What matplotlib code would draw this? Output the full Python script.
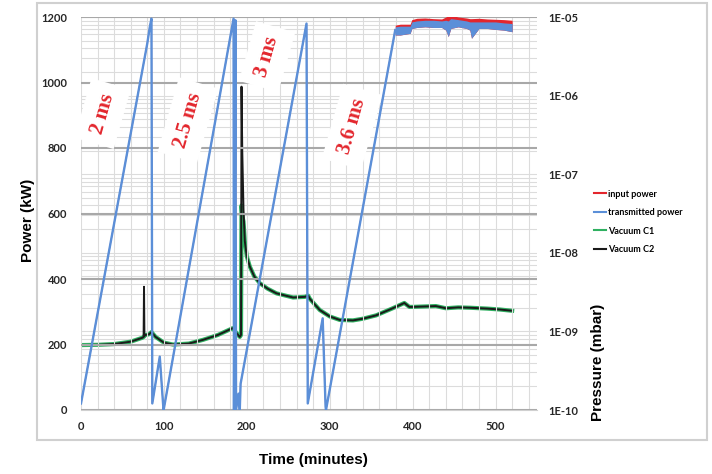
import numpy as np
import matplotlib.pyplot as plt
from matplotlib.lines import Line2D
from matplotlib.patches import Rectangle
from matplotlib.ticker import MultipleLocator, FuncFormatter, LogLocator

# power ramps (minutes, kW) - input and transmitted follow the same ramps
ramp_t = [0, 40, 80, 83, 85, 86, 95, 99.5, 100, 184, 184.5, 186.3, 187, 190, 191.5, 192.5,
          272, 273.5, 291.5, 295, 295.5, 379]
ramp_p = [20, 570, 1120, 1170, 1195, 20, 163, 0, 5, 1195, 0, 1190, 0, 50, 0, 80,
          1180, 20, 280, 10, 0, 1160]

# noisy flat top at full power
top_t = [379, 385, 392, 397, 399, 405, 415, 425, 435, 440, 443, 446, 455, 465, 469,
         471, 480, 490, 500, 510, 520]
trans_lo = [1145, 1145, 1148, 1150, 1165, 1168, 1170, 1168, 1168, 1160, 1140, 1165, 1170,
            1165, 1160, 1135, 1165, 1165, 1162, 1160, 1155]
trans_hi = [1170, 1172, 1172, 1172, 1185, 1188, 1190, 1190, 1188, 1190, 1188, 1195, 1192,
            1188, 1185, 1185, 1185, 1185, 1185, 1182, 1180]
input_hi = [1175, 1178, 1178, 1178, 1192, 1196, 1197, 1195, 1194, 1200, 1205, 1206, 1200,
            1197, 1195, 1195, 1196, 1194, 1193, 1192, 1190]

# vacuum (mbar)
vac_t = [0, 20, 40, 60, 74, 75.5, 76, 76.5, 78, 82, 85, 90, 100, 111, 130, 147, 165, 183,
         186, 191.5, 193, 193.6, 194.5, 196, 197.6, 200, 203.6, 209, 215.7, 225, 235.7,
         255.8, 270, 274, 276, 282, 288, 300, 312, 328, 340, 356, 376, 390, 396, 400, 428,
         440, 455, 469, 490, 505, 520]
vac_c2 = [6.7e-10, 6.75e-10, 6.9e-10, 7.4e-10, 8.3e-10, 8.5e-10, 3.7e-9, 8.8e-10, 9.0e-10,
          9.2e-10, 9.8e-10, 8.5e-10, 7.2e-10, 6.8e-10, 7.0e-10, 7.8e-10, 9.0e-10, 1.1e-9,
          1.0e-9, 8.5e-10, 9e-10, 1.3e-6, 2e-7, 3.5e-8, 1.4e-8, 9e-9, 6.7e-9, 5.0e-9, 4.1e-9,
          3.5e-9, 3.05e-9, 2.7e-9, 2.75e-9, 2.85e-9, 2.6e-9, 2.2e-9, 1.87e-9, 1.55e-9, 1.4e-9,
          1.38e-9, 1.45e-9, 1.6e-9, 1.97e-9, 2.3e-9, 2.05e-9, 2.05e-9, 2.1e-9, 1.97e-9,
          2.02e-9, 2.0e-9, 1.95e-9, 1.9e-9, 1.83e-9]
vac_c1 = [6.7e-10, 6.75e-10, 6.9e-10, 7.4e-10, 8.3e-10, 8.5e-10, 8.6e-10, 8.8e-10, 9.0e-10,
          9.2e-10, 9.8e-10, 8.5e-10, 7.2e-10, 6.8e-10, 7.0e-10, 7.8e-10, 9.0e-10, 1.1e-9,
          1.0e-9, 8.5e-10, 9e-10, 4e-8, 3e-8, 2.5e-8, 1.4e-8, 9e-9, 6.7e-9, 5.0e-9, 4.1e-9,
          3.5e-9, 3.05e-9, 2.7e-9, 2.75e-9, 2.85e-9, 2.6e-9, 2.2e-9, 1.87e-9, 1.55e-9, 1.4e-9,
          1.38e-9, 1.45e-9, 1.6e-9, 1.97e-9, 2.3e-9, 2.05e-9, 2.05e-9, 2.1e-9, 1.97e-9,
          2.02e-9, 2.0e-9, 1.95e-9, 1.9e-9, 1.83e-9]

labels = ['2 ms', '2.5 ms', '3 ms', '3.6 ms']
label_t = [26, 129, 224.5, 327]
label_p = [905, 885, 1079, 865]

red = '#e3262d'
blue = '#5b8fd8'
green = '#2fb061'
black = '#1a1a1a'

fig = plt.figure(figsize=(7.12, 4.74), dpi=100)
ax = fig.add_axes([81/712, 1-410/474, 456/712, 393/474])
ax2 = ax.twinx()
ax.set_zorder(ax2.get_zorder() + 1)
ax.patch.set_visible(False)

# vacuum on the log axis (drawn below)
ax2.plot(vac_t, vac_c1, color=green, lw=3.0, zorder=2)
ax2.plot(vac_t, vac_c2, color=black, lw=1.4, zorder=3)
ax2.set_yscale('log')
ax2.set_ylim(1e-10, 1e-5)
ax2.yaxis.set_major_locator(LogLocator(base=10, numticks=10))
ax2.yaxis.set_minor_locator(LogLocator(base=10, subs=np.arange(2, 10), numticks=10))
ax2.yaxis.set_major_formatter(FuncFormatter(lambda v, p: '1E-%02d' % round(-np.log10(v))))
ax2.grid(which='both', axis='y', color='#dcdcdc', lw=0.8)
ax2.set_axisbelow(True)

# power
ax.plot(ramp_t, ramp_p, color=red, lw=0.8, zorder=3)
ax.fill_between(top_t, trans_lo, input_hi, color=red, lw=0, zorder=3)
ax.plot(ramp_t, ramp_p, color=blue, lw=1.7, zorder=4)
ax.fill_between(top_t, trans_lo, trans_hi, color=blue, lw=0, zorder=4)

for s, t, p in zip(labels, label_t, label_p):
    ax.text(t, p, s, rotation=74, ha='center', va='center', color=red, fontsize=15,
            fontweight='bold', family='Liberation Serif', zorder=2.5,
            bbox=dict(boxstyle='square,pad=0.5', fc='white', ec='none'))

ax.set_xlim(0, 550)
ax.set_ylim(0, 1200)
ax.xaxis.set_major_locator(MultipleLocator(100))
ax.xaxis.set_minor_locator(MultipleLocator(20))
ax.yaxis.set_major_locator(MultipleLocator(200))
ax.grid(which='both', axis='x', color='#dcdcdc', lw=0.8)
ax.grid(which='major', axis='y', color='#a8a8a8', lw=1.5)

for a in (ax, ax2):
    for sp in a.spines.values():
        sp.set_visible(False)
    a.tick_params(which='both', length=0, labelsize=8, labelcolor='#262626')
    for lab in a.get_xticklabels() + a.get_yticklabels():
        lab.set_fontweight('bold')
        lab.set_family('Lato')
ax.tick_params(axis='y', pad=10)
ax.tick_params(axis='x', pad=8)
ax2.tick_params(axis='y', pad=8)
ax.spines['bottom'].set_visible(True)
ax.spines['bottom'].set_color('#d0d0d0')

fig.text(28/712, 1-220/474, 'Power (kW)', rotation=90, ha='center', va='center',
         fontsize=11, fontweight='bold', family='Liberation Sans')
fig.text(313/712, 1-460/474, 'Time (minutes)', ha='center', va='center',
         fontsize=11, fontweight='bold', family='Liberation Sans')
fig.text(598/712, 1-362/474, 'Pressure (mbar)', rotation=90, ha='center', va='center',
         fontsize=11, fontweight='bold', family='Liberation Sans')

handles = [Line2D([], [], color=red, lw=1.5), Line2D([], [], color=blue, lw=1.5),
           Line2D([], [], color=green, lw=1.5), Line2D([], [], color=black, lw=1.5)]
fig.legend(handles, ['input power', 'transmitted power', 'Vacuum C1', 'Vacuum C2'],
           loc='upper left', bbox_to_anchor=(590/712, 1-186/474), frameon=False,
           prop={'family': 'Lato', 'weight': 'bold', 'size': 6.5}, handlelength=1.4,
           handletextpad=0.2, labelspacing=1.05, borderaxespad=0)

fig.patches.append(Rectangle((37/712, 1-440/474), 670/712, 437/474, transform=fig.transFigure,
                             fill=False, ec='#d0d0d0', lw=1.5))

fig.savefig('out.png', dpi=100)
